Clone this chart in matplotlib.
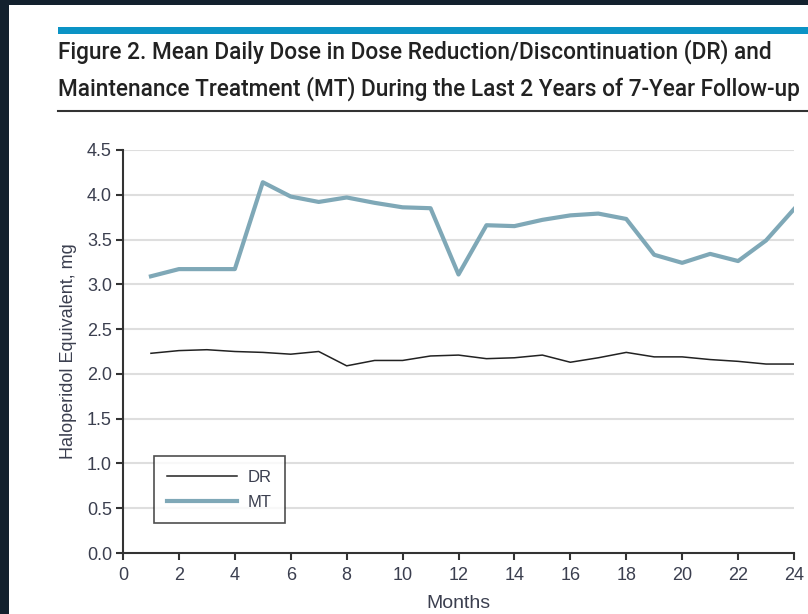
import matplotlib.pyplot as plt
from matplotlib.patches import Rectangle
from matplotlib.lines import Line2D

# data
months = list(range(1, 25))
dr = [2.23, 2.26, 2.27, 2.25, 2.24, 2.22, 2.25, 2.09, 2.15, 2.15, 2.20, 2.21,
      2.17, 2.18, 2.21, 2.13, 2.18, 2.24, 2.19, 2.19, 2.16, 2.14, 2.11, 2.11]
mt = [3.09, 3.17, 3.17, 3.17, 4.14, 3.98, 3.92, 3.97, 3.91, 3.86, 3.85, 3.11,
      3.66, 3.65, 3.72, 3.77, 3.79, 3.73, 3.33, 3.24, 3.34, 3.26, 3.49, 3.84]
xticks = list(range(0, 25, 2))
yticks = [0.0, 0.5, 1.0, 1.5, 2.0, 2.5, 3.0, 3.5, 4.0, 4.5]

font = ['Liberation Sans', 'DejaVu Sans']
title_font = ['Roboto', 'Liberation Sans', 'DejaVu Sans']
txt_col = '#3b3f4f'

fig = plt.figure(figsize=(8.08, 6.14), dpi=100)
fig.patch.set_facecolor('#13212e')
# white page
fig.patches.append(Rectangle((9 / 808, 0), 1, 1 - 5 / 614, transform=fig.transFigure,
                             facecolor='white', edgecolor='none', zorder=-5))
# blue bar on top
fig.patches.append(Rectangle((58 / 808, 1 - 34 / 614), 1, 7 / 614, transform=fig.transFigure,
                             facecolor='#0b93c5', edgecolor='none', zorder=1))
fig.lines.append(Line2D([58 / 808, 1], [1 - 111 / 614, 1 - 111 / 614], transform=fig.transFigure,
                        color='#333333', lw=1.5))

fig.text(58 / 808, 1 - 52 / 614, 'Figure 2. Mean Daily Dose in Dose Reduction/Discontinuation (DR) and',
         family=title_font, weight='medium', fontsize=16.3, color='#222222', va='center', ha='left')
fig.text(58 / 808, 1 - 89 / 614, 'Maintenance Treatment (MT) During the Last 2 Years of 7-Year Follow-up',
         family=title_font, weight='medium', fontsize=16.3, color='#222222', va='center', ha='left')

ax = fig.add_axes([123 / 808, 1 - 553 / 614, (794 - 123) / 808, (553 - 150) / 614])
ax.set_facecolor('white')

ax.plot(months, dr, color='#222222', lw=1.1, label='DR', zorder=3)
ax.plot(months, mt, color='#7fa8b7', lw=3, label='MT', zorder=3)

ax.set_xlim(0, 24)
ax.set_ylim(0, 4.5)
ax.set_xticks(xticks)
ax.set_yticks(yticks)
ax.set_yticklabels([f'{v:.1f}' for v in yticks])
for v in yticks[1:]:
    ax.axhline(v, color='#dedede', lw=1.5, zorder=1)

for s in ['top', 'right']:
    ax.spines[s].set_visible(False)
for s in ['left', 'bottom']:
    ax.spines[s].set_color('#333333')
    ax.spines[s].set_linewidth(1.5)
ax.tick_params(direction='out', length=5, width=1.5, color='#333333',
               labelsize=13, labelcolor=txt_col, pad=3)
ax.tick_params(axis='x', pad=5)
for lab in ax.get_xticklabels() + ax.get_yticklabels():
    lab.set_family(font)

ax.set_xlabel('Months', family=font, fontsize=14, color=txt_col, labelpad=8)
ax.set_ylabel('Haloperidol Equivalent, mg', family=font, fontsize=13, color=txt_col, labelpad=7)

leg = ax.legend(loc='lower left', bbox_to_anchor=(31 / 671, 30 / 403), frameon=True,
                fancybox=False, edgecolor='#222222', prop={'family': font, 'size': 12},
                handlelength=4.2, borderpad=0.8, labelspacing=0.6, handletextpad=0.6,
                borderaxespad=0)
leg.get_frame().set_linewidth(1.2)
for t in leg.get_texts():
    t.set_color(txt_col)

fig.savefig('out.png', dpi=100, facecolor=fig.get_facecolor())
